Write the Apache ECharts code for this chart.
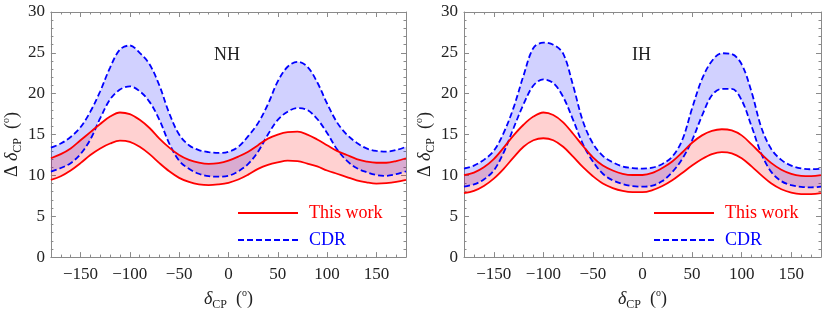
<!DOCTYPE html>
<html><head><meta charset="utf-8">
<script src="https://cdn.jsdelivr.net/npm/echarts@6/dist/echarts.min.js"></script>
<style>html,body{margin:0;padding:0;background:#fff}#c{width:822px;height:316px}</style>
</head><body><div id="c"></div>
<script>
// delta_CP grid (degrees)
const deltaCP = [-180,-170,-160,-150,-140,-130,-120,-110,-100,-90,-80,-70,-60,-50,-40,-30,-20,-10,0,10,20,30,40,50,60,70,80,90,100,110,120,130,140,150,160,170,180];
const xTickValues = [-150,-100,-50,0,50,100,150];
const panelNames = ['NH','IH'];
const legendNames = ['This work','CDR'];

// NH
const nhCdrUpper = [13.4,13.9,14.7,15.9,17.8,20.3,23.2,25.4,25.9,25.0,23.6,21.0,17.6,15.0,13.7,13.1,12.85,12.75,12.9,13.5,14.8,16.4,18.7,21.5,23.3,23.9,23.3,21.4,18.8,16.5,15.0,14.0,13.3,13.0,12.9,13.1,13.5];
const nhCdrLower = [10.45,10.9,11.5,12.6,14.4,17.0,19.3,20.5,20.9,20.3,19.0,16.8,13.9,11.8,10.8,10.2,9.9,9.85,9.95,10.5,11.4,12.9,15.0,16.8,17.8,18.25,18.0,16.9,15.2,13.2,11.8,10.9,10.4,10.05,9.95,10.15,10.5];
const nhWorkUpper = [12.1,12.6,13.3,14.3,15.3,16.3,17.2,17.7,17.5,16.8,15.8,14.5,13.4,12.5,11.9,11.55,11.4,11.5,11.8,12.3,12.9,13.7,14.5,15.0,15.3,15.35,15.0,14.4,13.7,13.0,12.5,12.0,11.7,11.55,11.55,11.75,12.1];
const nhWorkLower = [9.45,9.9,10.6,11.5,12.5,13.3,13.9,14.25,14.1,13.5,12.6,11.5,10.5,9.7,9.2,8.9,8.8,8.9,9.1,9.5,10.1,10.8,11.3,11.6,11.8,11.75,11.45,11.1,10.6,10.2,9.8,9.4,9.15,9.0,9.05,9.2,9.45];

// IH
const ihCdrUpper = [10.83,11.2,11.9,13.0,15.2,18.3,22.2,25.6,26.25,26.0,24.9,21.0,16.6,13.9,12.4,11.6,11.1,10.9,10.83,10.95,11.4,12.3,14.3,18.2,21.8,24.0,24.95,24.85,23.6,20.2,15.8,13.2,11.9,11.2,10.85,10.75,10.83];
const ihCdrLower = [8.62,8.9,9.5,10.6,12.8,15.8,18.7,21.0,21.75,21.3,19.6,16.8,13.8,11.7,10.2,9.4,8.95,8.7,8.62,8.75,9.3,10.4,12.0,14.3,17.3,19.8,20.6,20.6,19.2,16.0,12.6,10.4,9.3,8.8,8.6,8.54,8.62];
const ihWorkUpper = [10.03,10.35,11.0,12.0,13.4,14.9,16.2,17.2,17.7,17.4,16.5,15.1,13.6,12.2,11.2,10.6,10.2,10.05,10.05,10.3,10.9,11.7,12.8,14.0,14.9,15.45,15.65,15.5,14.9,13.8,12.6,11.5,10.7,10.2,9.95,9.9,10.03];
const ihWorkLower = [7.82,8.1,8.7,9.6,10.8,12.2,13.5,14.3,14.55,14.3,13.5,12.3,11.0,9.9,9.0,8.45,8.1,7.95,7.95,8.2,8.7,9.4,10.3,11.2,12.0,12.6,12.85,12.7,12.1,11.1,10.0,9.0,8.3,7.9,7.72,7.7,7.82];

const panelData = [
  {cdrU: nhCdrUpper, cdrL: nhCdrLower, wU: nhWorkUpper, wL: nhWorkLower},
  {cdrU: ihCdrUpper, cdrL: ihCdrLower, wU: ihWorkUpper, wL: ihWorkLower}
];

const FONT = "'Liberation Serif','DejaVu Serif',serif";
const FRAME = '#8a8a8a';
const grids = [
  {left: 49, top: 12, width: 357, height: 249},
  {left: 464, top: 12, width: 357, height: 250}
];
const diffs = (u, l) => u.map((v, i) => +(v - l[i]).toFixed(3));

const nameRich = {
  u: {fontFamily: FONT, fontSize: 18, color: '#222'},
  i: {fontFamily: FONT, fontSize: 18, fontStyle: 'italic', color: '#222'},
  s: {fontFamily: FONT, fontSize: 12, color: '#222', verticalAlign: 'bottom', lineHeight: 12, padding: [0,0,-3,0]},
  o: {fontFamily: FONT, fontSize: 10, color: '#222', verticalAlign: 'top', lineHeight: 10, padding: [-2,0,0,0]}
};

const xAxes = [], yAxes = [], series = [], legends = [], titles = [];
panelNames.forEach((pn, g) => {
  const base = {type: 'value', gridIndex: g, min: -180, max: 180, splitLine: {show: false}};
  xAxes.push(Object.assign({}, base, {position: 'bottom', interval: 10,
    axisLine: {show: true, onZero: false, lineStyle: {color: FRAME, width: 1}},
    axisTick: {show: true, inside: true, length: 2.5, lineStyle: {color: FRAME}},
    axisLabel: {show: false}}));
  xAxes.push(Object.assign({}, base, {position: 'bottom',
    axisLine: {show: false, onZero: false},
    axisTick: {show: true, inside: true, length: 5, customValues: xTickValues, lineStyle: {color: FRAME}},
    axisLabel: {show: true, customValues: xTickValues, margin: 9, fontFamily: FONT, fontSize: 17, color: '#222',
      formatter: v => (v < 0 ? '\u2212' + Math.abs(v) : String(v))},
    name: '{i|δ}{s|CP}{u|  (}{o|o}{u|)}', nameLocation: 'middle', nameGap: 24,
    nameTextStyle: {rich: nameRich}}));
  xAxes.push(Object.assign({}, base, {position: 'top', interval: 10,
    axisLine: {show: true, onZero: false, lineStyle: {color: FRAME, width: 1}},
    axisTick: {show: true, inside: true, length: 2.5, lineStyle: {color: FRAME}},
    axisLabel: {show: false}}));
  xAxes.push(Object.assign({}, base, {position: 'top',
    axisLine: {show: false, onZero: false},
    axisTick: {show: true, inside: true, length: 5, customValues: xTickValues, lineStyle: {color: FRAME}},
    axisLabel: {show: false}}));
  // hidden evenly spaced category axis carrying the curves (same positions as deltaCP on the value axis)
  xAxes.push({type: 'category', gridIndex: g, data: deltaCP.map(String), boundaryGap: false, show: false});

  const ybase = {type: 'value', gridIndex: g, min: 0, max: 30, interval: 5, splitLine: {show: false},
    axisLine: {show: true, onZero: false, lineStyle: {color: FRAME, width: 1}},
    axisTick: {show: true, inside: true, length: 5, lineStyle: {color: FRAME}},
    minorTick: {show: true, splitNumber: 5, length: 2.5, lineStyle: {color: FRAME}}};
  yAxes.push(Object.assign({}, ybase, {position: 'left',
    axisLabel: {show: true, margin: 6, fontFamily: FONT, fontSize: 17, color: '#222'},
    name: '{u|Δ }{i|δ}{s|CP}{u|  (}{o|o}{u|)}', nameLocation: 'middle', nameRotate: 90, nameGap: 27,
    nameTextStyle: {rich: nameRich, padding: [0, 20, 0, 0]}}));
  yAxes.push(Object.assign({}, ybase, {position: 'right', axisLabel: {show: false}}));

  const xi = 5 * g + 4, yi = 2 * g, d = panelData[g];
  const common = {type: 'line', xAxisIndex: xi, yAxisIndex: yi, symbol: 'none', showSymbol: false, smooth: 0.35, silent: true, animation: false};
  // bands
  series.push(Object.assign({}, common, {name: 'cdrBase' + g, stack: 'cdr' + g, data: d.cdrL.slice(), lineStyle: {opacity: 0}}));
  series.push(Object.assign({}, common, {name: 'cdrBand' + g, stack: 'cdr' + g, data: diffs(d.cdrU, d.cdrL), lineStyle: {opacity: 0},
    areaStyle: {color: 'rgba(0,0,255,0.18)', opacity: 1}}));
  series.push(Object.assign({}, common, {name: 'workBase' + g, stack: 'work' + g, data: d.wL.slice(), lineStyle: {opacity: 0}}));
  series.push(Object.assign({}, common, {name: 'workBand' + g, stack: 'work' + g, data: diffs(d.wU, d.wL), lineStyle: {opacity: 0},
    areaStyle: {color: 'rgba(255,0,0,0.18)', opacity: 1}}));
  // lines
  series.push(Object.assign({}, common, {name: 'CDR', data: d.cdrU.slice(), lineStyle: {color: '#0000ff', width: 1.8, type: [6, 3]}, itemStyle: {color: '#0000ff'}}));
  series.push(Object.assign({}, common, {name: 'CDR', data: d.cdrL.slice(), lineStyle: {color: '#0000ff', width: 1.8, type: [6, 3]}, itemStyle: {color: '#0000ff'}}));
  series.push(Object.assign({}, common, {name: 'This work', data: d.wU.slice(), lineStyle: {color: '#ff0000', width: 1.8}, itemStyle: {color: '#ff0000'}}));
  series.push(Object.assign({}, common, {name: 'This work', data: d.wL.slice(), lineStyle: {color: '#ff0000', width: 1.8}, itemStyle: {color: '#ff0000'}}));

  legends.push({
    orient: 'vertical', left: g === 0 ? 237 : 653, top: 204, padding: 0,
    itemWidth: 60, itemHeight: 14, itemGap: 9, selectedMode: false,
    itemStyle: {opacity: 0},
    data: [
      {name: legendNames[0], textStyle: {color: '#ff0000'}},
      {name: legendNames[1], textStyle: {color: '#0000ff'}}
    ],
    textStyle: {fontFamily: FONT, fontSize: 18, padding: [0, 0, 0, 6]}
  });
  titles.push({text: pn, left: g === 0 ? 214 : 632, top: 46, padding: 0,
    textStyle: {fontFamily: FONT, fontSize: 18, fontWeight: 'normal', color: '#222'}});
});

const chart = echarts.init(document.getElementById('c'), null, {renderer: 'canvas'});
chart.setOption({
  backgroundColor: '#fff',
  animation: false,
  title: titles,
  legend: legends,
  grid: grids,
  xAxis: xAxes,
  yAxis: yAxes,
  series: series
});
</script>
</body></html>
